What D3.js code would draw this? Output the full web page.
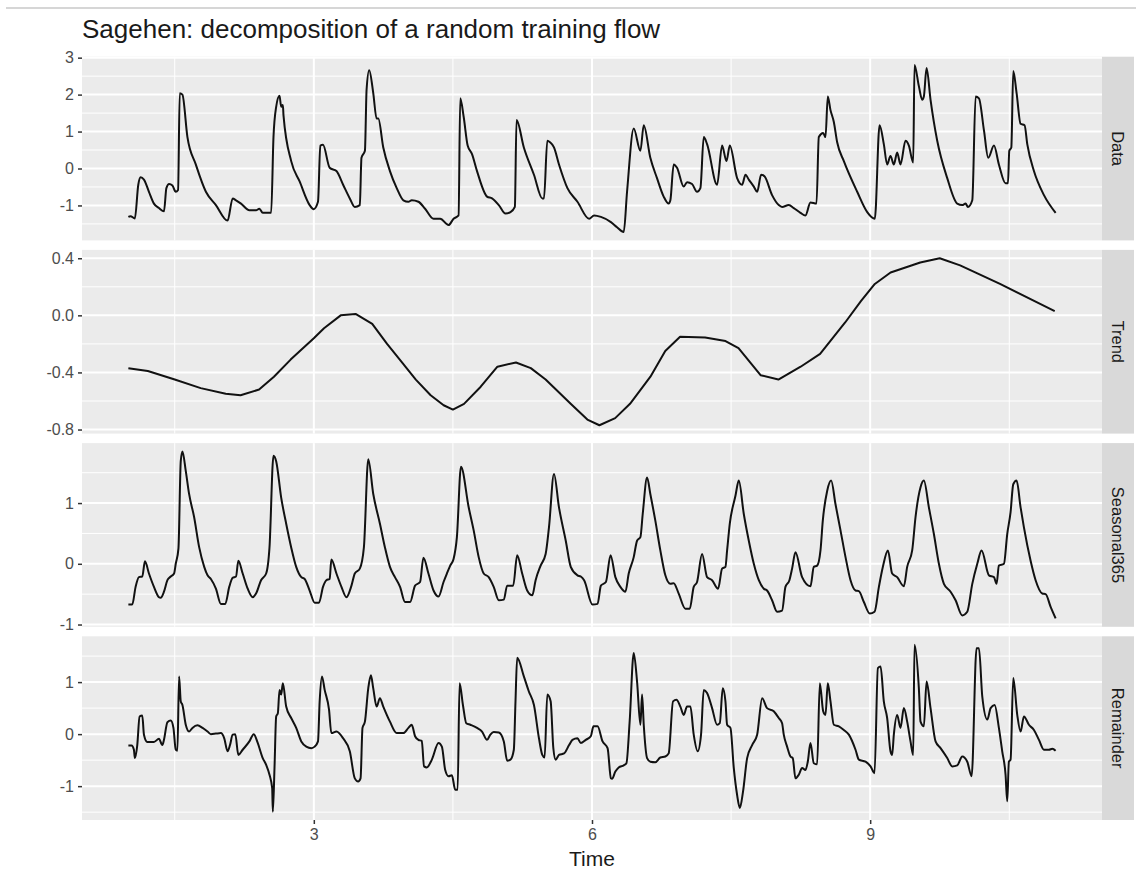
<!DOCTYPE html>
<html lang="en">
<head>
<meta charset="UTF-8">
<title>Sagehen decomposition</title>
<style>
    body { margin: 0; background: #fff; }
    text { font-family: "Liberation Sans", Arial, Helvetica, sans-serif; }
</style>
</head>
<body>
<svg width="1136" height="877"></svg>
<script src="https://d3js.org/d3.v7.min.js"></script>
<script>

// ---- values: [time, value] ----
const dataObs = [[1.00,-1.31],[1.023,-1.29],[1.070,-1.35],[1.107,-0.44],[1.132,-0.24],[1.168,-0.30],[1.222,-0.63],[1.276,-0.95],[1.330,-1.07],[1.384,-1.16],[1.410,-0.53],[1.439,-0.42],[1.475,-0.46],[1.511,-0.63],[1.536,-0.58],[1.554,2.04],[1.583,2.00],[1.637,0.85],[1.727,0.11],[1.836,-0.63],[1.944,-0.99],[2.070,-1.41],[2.125,-0.81],[2.161,-0.86],[2.215,-0.95],[2.305,-1.13],[2.377,-1.13],[2.413,-1.09],[2.449,-1.20],[2.540,-1.20],[2.565,0.85],[2.594,1.67],[2.630,1.97],[2.648,1.67],[2.666,1.72],[2.673,1.44],[2.756,0.20],[2.847,-0.35],[2.955,-0.99],[2.998,-1.10],[3.045,-0.90],[3.070,0.62],[3.099,0.64],[3.171,0.02],[3.244,-0.07],[3.316,-0.44],[3.388,-0.81],[3.442,-1.04],[3.496,-0.99],[3.514,0.29],[3.551,0.48],[3.569,2.13],[3.597,2.66],[3.641,2.04],[3.677,1.35],[3.695,1.35],[3.749,0.57],[3.821,-0.07],[3.894,-0.53],[3.966,-0.86],[4.020,-0.90],[4.056,-0.86],[4.128,-0.90],[4.200,-1.09],[4.291,-1.36],[4.363,-1.36],[4.453,-1.53],[4.507,-1.36],[4.561,-1.27],[4.579,1.90],[4.616,1.40],[4.659,0.62],[4.706,0.39],[4.760,-0.07],[4.868,-0.76],[4.922,-0.81],[4.995,-0.99],[5.067,-1.22],[5.121,-1.18],[5.168,-1.04],[5.186,1.31],[5.265,0.57],[5.374,-0.17],[5.464,-0.81],[5.482,-0.81],[5.518,0.75],[5.547,0.71],[5.590,0.57],[5.644,0.11],[5.735,-0.53],[5.843,-0.90],[5.969,-1.36],[6.023,-1.27],[6.096,-1.31],[6.204,-1.45],[6.270,-1.59],[6.342,-1.72],[6.378,-0.63],[6.450,1.08],[6.522,0.48],[6.558,1.17],[6.629,0.29],[6.701,-0.26],[6.773,-0.76],[6.827,-0.95],[6.845,-0.86],[6.881,0.11],[6.917,0.02],[6.989,-0.49],[7.025,-0.37],[7.079,-0.42],[7.133,-0.63],[7.169,-0.53],[7.205,0.85],[7.241,0.66],[7.349,-0.44],[7.403,0.62],[7.450,0.20],[7.486,0.62],[7.565,-0.26],[7.619,-0.44],[7.655,-0.17],[7.691,-0.30],[7.745,-0.49],[7.781,-0.63],[7.824,-0.17],[7.860,-0.21],[7.942,-0.72],[8.014,-0.99],[8.050,-1.04],[8.122,-0.99],[8.176,-1.07],[8.248,-1.20],[8.302,-1.27],[8.356,-0.92],[8.421,-0.95],[8.446,0.85],[8.493,0.96],[8.518,0.85],[8.543,1.95],[8.572,1.58],[8.608,1.26],[8.644,0.71],[8.716,0.20],[8.860,-0.63],[8.968,-1.18],[9.050,-1.36],[9.101,1.17],[9.147,0.66],[9.183,0.11],[9.219,0.34],[9.255,0.11],[9.291,0.43],[9.327,0.11],[9.381,0.75],[9.417,0.62],[9.464,0.16],[9.478,2.80],[9.525,2.23],[9.561,1.86],[9.579,1.95],[9.608,2.72],[9.651,1.86],[9.723,0.75],[9.831,-0.26],[9.939,-0.95],[9.993,-0.99],[10.029,-0.95],[10.054,-1.04],[10.101,-0.86],[10.137,1.95],[10.173,1.90],[10.227,1.03],[10.273,0.29],[10.335,0.62],[10.388,0.11],[10.460,-0.40],[10.486,-0.40],[10.500,0.48],[10.522,0.57],[10.543,2.64],[10.579,2.04],[10.622,1.21],[10.665,1.17],[10.694,0.66],[10.766,-0.07],[10.874,-0.72],[11.000,-1.20]];

const trendObs = [[1.00,-0.37],[1.21,-0.39],[1.50,-0.45],[1.78,-0.51],[2.05,-0.55],[2.21,-0.56],[2.41,-0.52],[2.57,-0.43],[2.75,-0.31],[3.00,-0.16],[3.11,-0.09],[3.29,0.00],[3.45,0.01],[3.63,-0.06],[3.79,-0.20],[3.94,-0.32],[4.10,-0.45],[4.26,-0.56],[4.40,-0.63],[4.50,-0.66],[4.62,-0.62],[4.80,-0.50],[4.98,-0.36],[5.18,-0.33],[5.34,-0.37],[5.50,-0.45],[5.77,-0.62],[5.95,-0.73],[6.08,-0.77],[6.25,-0.72],[6.41,-0.62],[6.63,-0.43],[6.79,-0.25],[6.95,-0.15],[7.22,-0.155],[7.44,-0.18],[7.58,-0.23],[7.82,-0.42],[8.01,-0.45],[8.25,-0.36],[8.46,-0.27],[8.73,-0.05],[8.90,0.10],[9.05,0.22],[9.22,0.30],[9.54,0.37],[9.75,0.40],[9.97,0.35],[10.40,0.22],[10.99,0.03]];

const seasonalObs = [[1.00,-0.67],[1.042,-0.67],[1.078,-0.38],[1.114,-0.22],[1.150,-0.21],[1.179,0.04],[1.222,-0.16],[1.276,-0.38],[1.330,-0.55],[1.348,-0.56],[1.384,-0.46],[1.421,-0.27],[1.457,-0.21],[1.493,-0.16],[1.511,0.00],[1.540,0.25],[1.565,1.69],[1.583,1.85],[1.619,1.53],[1.655,1.15],[1.709,0.77],[1.764,0.27],[1.818,-0.05],[1.854,-0.19],[1.890,-0.25],[1.944,-0.41],[1.998,-0.66],[2.045,-0.66],[2.088,-0.38],[2.125,-0.23],[2.161,-0.21],[2.186,0.05],[2.233,-0.16],[2.287,-0.41],[2.341,-0.55],[2.377,-0.49],[2.431,-0.27],[2.486,-0.16],[2.522,0.27],[2.565,1.78],[2.594,1.69],[2.648,1.09],[2.702,0.66],[2.756,0.27],[2.810,-0.05],[2.865,-0.22],[2.901,-0.25],[2.955,-0.44],[3.009,-0.64],[3.056,-0.64],[3.099,-0.38],[3.135,-0.27],[3.171,-0.25],[3.189,0.07],[3.244,-0.16],[3.298,-0.38],[3.352,-0.55],[3.406,-0.36],[3.442,-0.16],[3.496,-0.08],[3.540,0.27],[3.587,1.72],[3.641,1.15],[3.713,0.66],[3.767,0.27],[3.821,-0.05],[3.875,-0.22],[3.930,-0.38],[3.984,-0.63],[4.038,-0.63],[4.092,-0.36],[4.146,-0.30],[4.182,0.10],[4.236,-0.16],[4.291,-0.44],[4.345,-0.54],[4.399,-0.30],[4.435,-0.16],[4.471,-0.03],[4.507,0.08],[4.543,0.44],[4.587,1.60],[4.670,0.93],[4.724,0.55],[4.778,0.11],[4.832,-0.16],[4.886,-0.22],[4.940,-0.38],[4.995,-0.60],[5.049,-0.59],[5.085,-0.36],[5.150,-0.36],[5.193,0.14],[5.247,-0.16],[5.301,-0.44],[5.356,-0.52],[5.392,-0.27],[5.446,-0.03],[5.500,0.16],[5.536,0.60],[5.590,1.48],[5.644,0.93],[5.717,0.38],[5.771,-0.05],[5.843,-0.19],[5.879,-0.21],[5.915,-0.27],[6.005,-0.67],[6.060,-0.66],[6.096,-0.36],[6.150,-0.30],[6.200,0.14],[6.252,-0.22],[6.306,-0.38],[6.360,-0.46],[6.396,-0.16],[6.450,0.11],[6.486,0.38],[6.522,0.44],[6.547,0.82],[6.594,1.42],[6.629,1.15],[6.683,0.71],[6.737,0.22],[6.791,-0.19],[6.845,-0.33],[6.881,-0.32],[6.935,-0.49],[7.007,-0.74],[7.054,-0.74],[7.097,-0.38],[7.133,-0.30],[7.187,0.16],[7.241,-0.22],[7.295,-0.27],[7.360,-0.41],[7.403,-0.08],[7.439,-0.05],[7.457,0.22],[7.486,0.66],[7.547,1.12],[7.583,1.37],[7.637,0.82],[7.691,0.38],[7.745,0.00],[7.799,-0.27],[7.853,-0.41],[7.888,-0.44],[7.942,-0.60],[7.996,-0.79],[8.050,-0.77],[8.086,-0.38],[8.129,-0.27],[8.158,-0.08],[8.194,0.19],[8.266,-0.22],[8.356,-0.37],[8.392,-0.05],[8.428,-0.03],[8.464,0.22],[8.489,0.71],[8.536,1.20],[8.579,1.37],[8.626,0.98],[8.680,0.55],[8.734,0.11],[8.788,-0.27],[8.842,-0.44],[8.878,-0.45],[8.932,-0.63],[8.996,-0.82],[9.047,-0.79],[9.094,-0.38],[9.137,-0.05],[9.191,0.22],[9.237,-0.16],[9.291,-0.22],[9.363,-0.37],[9.399,-0.05],[9.453,0.22],[9.489,0.77],[9.543,1.26],[9.579,1.37],[9.633,0.93],[9.687,0.49],[9.741,0.00],[9.795,-0.33],[9.867,-0.46],[9.921,-0.60],[9.993,-0.85],[10.047,-0.79],[10.101,-0.33],[10.155,0.00],[10.201,0.22],[10.281,-0.19],[10.335,-0.22],[10.363,-0.33],[10.388,-0.03],[10.442,0.00],[10.478,0.49],[10.514,0.85],[10.543,1.31],[10.579,1.37],[10.622,0.93],[10.658,0.60],[10.730,0.05],[10.784,-0.27],[10.856,-0.49],[10.892,-0.50],[10.946,-0.71],[11.000,-0.90]];

const remainderObs = [[1.00,-0.22],[1.034,-0.22],[1.060,-0.30],[1.070,-0.46],[1.096,-0.21],[1.121,0.34],[1.150,0.36],[1.168,-0.01],[1.204,-0.15],[1.276,-0.15],[1.330,-0.09],[1.366,-0.21],[1.384,-0.11],[1.421,0.23],[1.457,0.26],[1.486,0.12],[1.511,-0.30],[1.529,-0.32],[1.547,1.11],[1.565,0.63],[1.583,0.56],[1.619,0.18],[1.655,0.05],[1.691,0.12],[1.745,0.17],[1.800,0.12],[1.854,0.05],[1.890,0.00],[1.944,0.01],[1.998,0.02],[2.034,-0.08],[2.070,-0.33],[2.096,-0.21],[2.125,-0.01],[2.153,0.00],[2.186,-0.40],[2.233,-0.30],[2.305,-0.14],[2.352,0.00],[2.395,-0.17],[2.449,-0.46],[2.486,-0.59],[2.522,-0.78],[2.551,-1.04],[2.558,-1.49],[2.576,-0.65],[2.594,0.34],[2.612,0.40],[2.630,0.85],[2.648,0.76],[2.666,0.98],[2.702,0.53],[2.756,0.31],[2.810,0.12],[2.865,-0.14],[2.919,-0.24],[2.973,-0.27],[3.009,-0.24],[3.045,-0.14],[3.063,0.63],[3.088,1.11],[3.117,0.85],[3.164,0.47],[3.189,0.02],[3.244,0.05],[3.316,-0.08],[3.388,-0.33],[3.442,-0.85],[3.478,-0.91],[3.504,-0.85],[3.525,0.12],[3.551,0.24],[3.587,0.88],[3.616,1.13],[3.641,0.88],[3.677,0.53],[3.713,0.69],[3.749,0.53],[3.821,0.24],[3.894,0.02],[3.966,0.02],[4.020,0.12],[4.056,0.18],[4.092,-0.04],[4.128,-0.11],[4.164,-0.13],[4.189,-0.62],[4.218,-0.64],[4.273,-0.49],[4.345,-0.17],[4.381,-0.24],[4.417,-0.69],[4.453,-0.81],[4.489,-0.79],[4.525,-1.07],[4.551,-1.07],[4.572,0.98],[4.608,0.56],[4.644,0.21],[4.688,0.18],[4.760,0.12],[4.814,0.05],[4.868,-0.11],[4.904,-0.01],[4.940,0.04],[4.995,0.03],[5.049,-0.14],[5.085,-0.51],[5.121,-0.49],[5.157,-0.30],[5.175,0.63],[5.193,1.47],[5.265,1.11],[5.319,0.82],[5.374,0.56],[5.428,-0.08],[5.464,-0.40],[5.489,-0.45],[5.518,0.76],[5.554,0.63],[5.583,-0.27],[5.608,-0.49],[5.644,-0.40],[5.699,-0.37],[5.753,-0.21],[5.789,-0.11],[5.843,-0.08],[5.879,-0.17],[5.933,-0.11],[5.987,-0.04],[6.016,0.15],[6.060,0.15],[6.114,-0.14],[6.168,-0.27],[6.204,-0.85],[6.216,-0.86],[6.252,-0.72],[6.288,-0.64],[6.342,-0.60],[6.371,-0.56],[6.406,0.24],[6.450,1.56],[6.486,1.01],[6.522,0.18],[6.540,0.76],[6.558,0.18],[6.594,-0.46],[6.629,-0.53],[6.683,-0.54],[6.737,-0.45],[6.791,-0.43],[6.827,-0.37],[6.874,0.63],[6.910,0.66],[6.953,0.53],[6.989,0.37],[7.025,0.53],[7.061,0.53],[7.097,-0.01],[7.140,-0.33],[7.176,-0.01],[7.205,0.85],[7.241,0.79],[7.295,0.50],[7.349,0.18],[7.378,0.21],[7.410,0.88],[7.439,0.63],[7.457,0.18],[7.493,0.12],[7.529,-0.65],[7.565,-1.17],[7.594,-1.42],[7.629,-1.10],[7.673,-0.46],[7.727,-0.21],[7.781,-0.01],[7.835,0.69],[7.888,0.50],[7.960,0.44],[8.014,0.31],[8.050,0.21],[8.068,-0.01],[8.104,-0.24],[8.140,-0.43],[8.165,-0.46],[8.194,-0.85],[8.230,-0.78],[8.266,-0.65],[8.302,-0.69],[8.327,-0.53],[8.356,-0.17],[8.392,-0.56],[8.428,-0.58],[8.457,0.98],[8.493,0.44],[8.518,0.37],[8.543,0.98],[8.572,0.63],[8.608,0.18],[8.662,0.15],[8.716,0.08],[8.770,-0.01],[8.842,-0.30],[8.878,-0.49],[8.950,-0.53],[9.004,-0.62],[9.047,-0.75],[9.083,1.27],[9.112,1.30],[9.147,0.63],[9.183,0.31],[9.219,-0.33],[9.237,-0.40],[9.255,-0.01],[9.291,0.37],[9.327,0.12],[9.363,0.50],[9.399,0.24],[9.435,-0.14],[9.464,-0.40],[9.478,1.72],[9.525,0.88],[9.543,0.24],[9.579,0.15],[9.608,1.01],[9.651,0.50],[9.705,-0.14],[9.759,-0.27],[9.831,-0.46],[9.885,-0.62],[9.939,-0.60],[9.993,-0.43],[10.047,-0.53],[10.094,-0.81],[10.147,1.65],[10.173,1.65],[10.209,0.72],[10.263,0.28],[10.299,0.50],[10.342,0.56],[10.388,0.12],[10.424,-0.33],[10.460,-0.78],[10.478,-1.29],[10.496,-0.53],[10.514,-0.49],[10.543,1.08],[10.586,0.37],[10.622,0.05],[10.658,0.34],[10.712,0.18],[10.766,0.08],[10.820,-0.11],[10.874,-0.30],[10.928,-0.30],[10.964,-0.28],[11.000,-0.32]];

const panelNames = ["Data", "Trend", "Seasonal365", "Remainder"];
const panelSeries = [dataObs, trendObs, seasonalObs, remainderObs];
const yTickValues = [[-1, 0, 1, 2, 3], [-0.8, -0.4, 0.0, 0.4], [-1, 0, 1], [-1, 0, 1]];
const yTickDigits = [0, 1, 0, 0];
const xTickValues = [3, 6, 9];
const titleText = "Sagehen: decomposition of a random training flow";
const xLabel = "Time";

// ---- layout ----
const svg = d3.select("svg");
const plotLeft = 82;
const plotRight = 1102;
const stripWidth = 32;
const firstTop = 56.7;
const panelHeight = 183.7;
const panelGap = 9.5;

const grey = "#EBEBEB";
const fontStack = "'Liberation Sans', Arial, Helvetica, sans-serif";

// ggplot prints a plain hyphen, not the unicode minus d3 uses
const fmt = digits => d => d3.format("." + digits + "f")(d).replace("\u2212", "-");

// top rule of the screenshot
svg.append("line")
    .attr("x1", 6).attr("x2", 1136)
    .attr("y1", 8).attr("y2", 8)
    .attr("stroke", "#c8c8c8")
    .attr("stroke-width", 1.5);

svg.append("text")
    .attr("x", plotLeft)
    .attr("y", 38)
    .attr("font-size", 26)
    .attr("fill", "#1a1a1a")
    .text(titleText);

// shared x scale, ggplot style 5% expansion
const allTimes = panelSeries.flat().map(d => d[0]);
const tExtent = d3.extent(allTimes);
const tPad = (tExtent[1] - tExtent[0]) * 0.05;
const x = d3.scaleLinear()
    .domain([tExtent[0] - tPad, tExtent[1] + tPad])
    .range([plotLeft, plotRight]);

const xStep = xTickValues[1] - xTickValues[0];
const xMinor = xTickValues.map(t => t - xStep / 2)
    .concat([xTickValues[xTickValues.length - 1] + xStep / 2])
    .filter(v => v > x.domain()[0] && v < x.domain()[1]);

panelSeries.forEach((series, i) => {
    const top = firstTop + i * (panelHeight + panelGap);
    const bottom = top + panelHeight;
    const ext = d3.extent(series, d => d[1]);
    const pad = (ext[1] - ext[0]) * 0.05;
    const y = d3.scaleLinear()
        .domain([ext[0] - pad, ext[1] + pad])
        .range([bottom, top]);

    const g = svg.append("g");

    g.append("rect")
        .attr("x", plotLeft).attr("y", top)
        .attr("width", plotRight - plotLeft).attr("height", panelHeight)
        .attr("fill", grey);

    // minor grid
    const ticks = yTickValues[i];
    const step = ticks[1] - ticks[0];
    const yMinor = ticks.map(t => t - step / 2).concat([ticks[ticks.length - 1] + step / 2])
        .filter(v => v > y.domain()[0] && v < y.domain()[1]);

    g.selectAll(".ymin").data(yMinor).enter().append("line")
        .attr("x1", plotLeft).attr("x2", plotRight)
        .attr("y1", d => y(d)).attr("y2", d => y(d))
        .attr("stroke", "#fff").attr("stroke-width", 1);

    g.selectAll(".xmin").data(xMinor).enter().append("line")
        .attr("x1", d => x(d)).attr("x2", d => x(d))
        .attr("y1", top).attr("y2", bottom)
        .attr("stroke", "#fff").attr("stroke-width", 1);

    // major grid
    g.selectAll(".ymaj").data(ticks).enter().append("line")
        .attr("x1", plotLeft).attr("x2", plotRight)
        .attr("y1", d => y(d)).attr("y2", d => y(d))
        .attr("stroke", "#fff").attr("stroke-width", 2);

    g.selectAll(".xmaj").data(xTickValues).enter().append("line")
        .attr("x1", d => x(d)).attr("x2", d => x(d))
        .attr("y1", top).attr("y2", bottom)
        .attr("stroke", "#fff").attr("stroke-width", 2);

    // y axis
    const ya = g.append("g")
        .attr("transform", `translate(${plotLeft},0)`)
        .call(d3.axisLeft(y).tickValues(ticks).tickSize(4).tickPadding(4).tickFormat(fmt(yTickDigits[i])));
    ya.select(".domain").remove();
    ya.selectAll("line").attr("stroke", "#333333").attr("stroke-width", 1.5);
    ya.selectAll("text")
        .attr("fill", "#4D4D4D")
        .attr("font-size", 16)
        .attr("font-family", fontStack);

    // series line
    const line = d3.line()
        .x(d => x(d[0]))
        .y(d => y(d[1]))
        .curve(i === 1 ? d3.curveLinear : d3.curveMonotoneX);
    g.append("path")
        .datum(series)
        .attr("d", line)
        .attr("fill", "none")
        .attr("stroke", "#111")
        .attr("stroke-width", 2)
        .attr("stroke-linejoin", "round");

    // strip
    g.append("rect")
        .attr("x", plotRight).attr("y", top)
        .attr("width", stripWidth).attr("height", panelHeight)
        .attr("fill", "#D9D9D9");
    g.append("text")
        .attr("transform", `translate(${plotRight + stripWidth / 2},${top + panelHeight / 2}) rotate(90)`)
        .attr("text-anchor", "middle")
        .attr("dy", "0.35em")
        .attr("font-size", 16.5)
        .attr("fill", "#1A1A1A")
        .text(panelNames[i]);

    // x axis under the last panel
    if (i === panelSeries.length - 1) {
        const xa = g.append("g")
            .attr("transform", `translate(0,${bottom})`)
            .call(d3.axisBottom(x).tickValues(xTickValues).tickSize(4).tickPadding(5).tickFormat(fmt(0)));
        xa.select(".domain").remove();
        xa.selectAll("line").attr("stroke", "#333333").attr("stroke-width", 1.5);
        xa.selectAll("text")
            .attr("fill", "#4D4D4D")
            .attr("font-size", 16)
            .attr("font-family", fontStack);

        g.append("text")
            .attr("x", (plotLeft + plotRight) / 2)
            .attr("y", bottom + 46)
            .attr("text-anchor", "middle")
            .attr("font-size", 21)
            .attr("fill", "#1a1a1a")
            .text(xLabel);
    }
});

</script>
</body>
</html>
